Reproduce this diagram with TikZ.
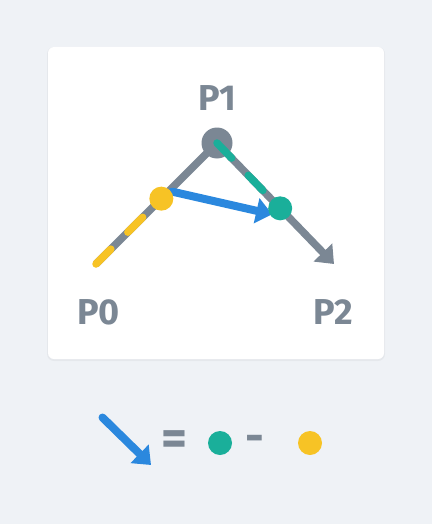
\documentclass[tikz,border=0pt]{standalone}
\usepackage{fontspec}
\setmainfont{Fira Sans}
\usetikzlibrary{arrows.meta,calc}
\definecolor{bg}{HTML}{EFF2F6}
\definecolor{slate}{HTML}{7B8794}
\definecolor{bluec}{HTML}{2B88DE}
\definecolor{tealc}{HTML}{1AAF9A}
\definecolor{yelc}{HTML}{F7C325}
\begin{document}
\begin{tikzpicture}[x=1pt,y=-1pt,
  lbl/.style={text=slate, font=\fontsize{36}{36}\selectfont\bfseries, inner sep=0},
  sym/.style={text=slate, font=\fontsize{50}{50}\selectfont\bfseries, inner sep=0},
  gline/.style={draw=slate, line width=7.5pt},
  dashy/.style={line width=7.5pt, line cap=round, dash pattern=on 21pt off 24pt},
  dotn/.style={circle, inner sep=0, minimum size=24pt},
  tip/.style={-{Triangle[length=16pt,width=25pt]}},
  barrow/.style={draw=bluec, line width=8pt, line cap=round, tip}]
\useasboundingbox[fill=bg] (0,0) rectangle (432,524);
% card
\fill[black,opacity=0.04,rounded corners=7pt] (47,47) rectangle (385,361);
\fill[white,rounded corners=6pt] (48,47) rectangle (384,359);
% points
\coordinate (P0) at (96,264);
\coordinate (P1) at (217,143);
\coordinate (P2) at (334,264);
\coordinate (Y) at ($(P0)!0.54!(P1)$);
\coordinate (T) at ($(P1)!0.54!(P2)$);
\draw[gline, line join=round, tip] (P0) -- (P1) -- (P2);
\node[dotn, fill=slate, minimum size=31pt] (n1) at (P1) {};
\draw[dashy, draw=yelc] (P0) -- (Y);
\draw[dashy, draw=tealc] (P1) -- (T);
\coordinate (bs) at ($(Y)+(11,-7)$);
\coordinate (be) at ($(T)+(-8,6)$);
\draw[barrow] (bs) -- (be);
\node[dotn, fill=yelc] (ny) at (Y) {};
\node[dotn, fill=tealc] (nt) at (T) {};
% labels
\node[lbl] (l1) at (217,98) {P1};
\node[lbl] (l0) at (98.5,312.5) {P0};
\node[lbl] (l2) at (333,312.5) {P2};
% legend
\coordinate (a0) at (102.5,417.5);
\coordinate (a1) at (151,465);
\draw[barrow] (a0) -- (a1);
\node[sym] (eq) at (174,443) {=};
\node[dotn, fill=tealc] (lt) at (220,443) {};
\node[sym, font=\fontsize{46}{46}\selectfont\bfseries] (mi) at (255,443.5) {-};
\node[dotn, fill=yelc] (ly) at (310,443) {};
\end{tikzpicture}
\end{document}
